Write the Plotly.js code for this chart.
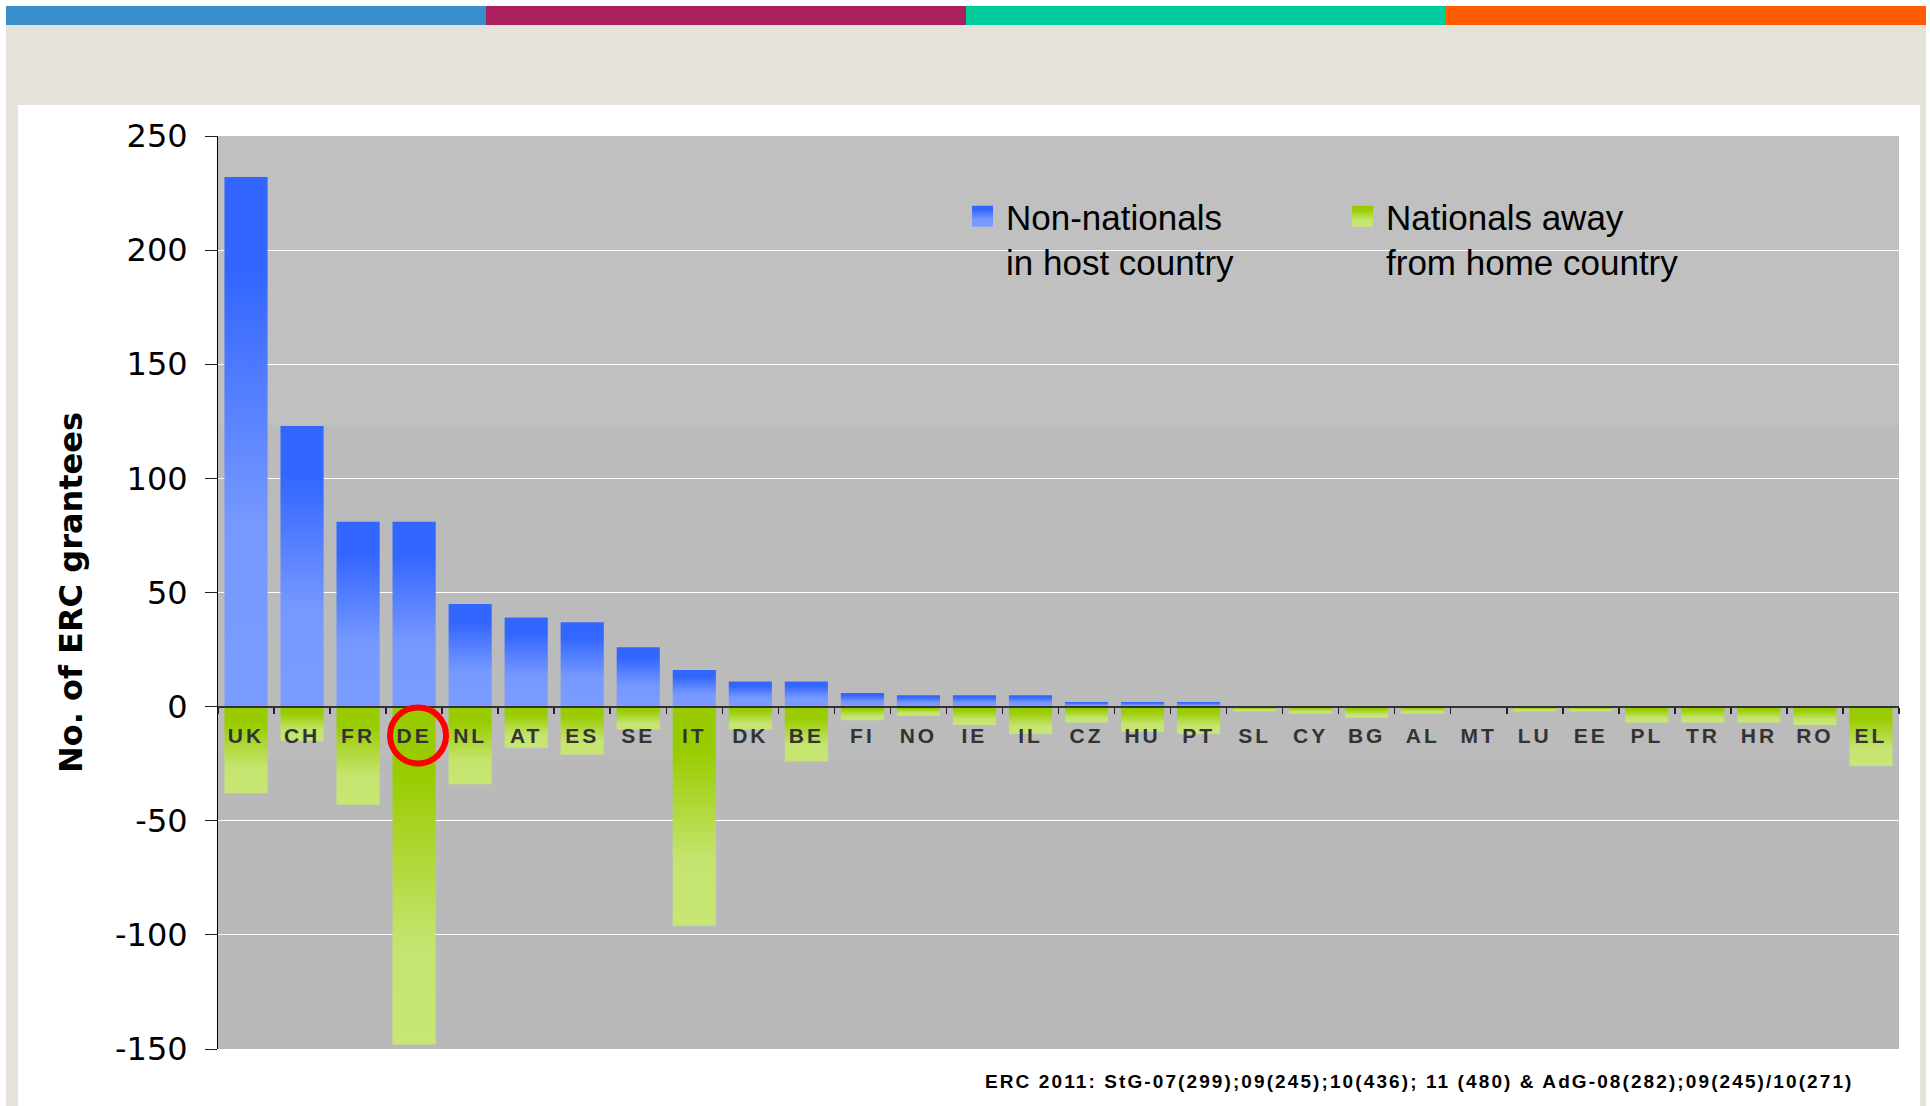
<!DOCTYPE html>
<html>
<head>
<meta charset="utf-8">
<script src="https://cdn.plot.ly/plotly-3.0.1.min.js"></script>
<style>
  html, body { margin: 0; padding: 0; background: #ffffff; }
  #chart { width: 1930px; height: 1106px; }
  .xtick text { letter-spacing: 3px; }
  .annotation-text { letter-spacing: 2.1px; }
</style>
</head>
<body>
<div id="chart"></div>
<script>
// ---- data ----
const categories = ['UK','CH','FR','DE','NL','AT','ES','SE','IT','DK','BE','FI','NO','IE','IL',
                    'CZ','HU','PT','SL','CY','BG','AL','MT','LU','EE','PL','TR','HR','RO','EL'];
const nonNationals = [232,123,81,81,45,39,37,26,16,11,11,6,5,5,5,2,2,2,0,0,0,0,0,0,0,0,0,0,0,0];
const nationalsAway = [-38,-15,-43,-148,-34,-18,-21,-10,-96,-10,-24,-6,-4,-8,-12,
                       -7,-11,-12,-2,-3,-5,-3,0,-2,-2,-7,-7,-7,-8,-26];
const seriesNames = ['Non-nationals<br>in host country', 'Nationals away<br>from home country'];
const yTickVals = [-150,-100,-50,0,50,100,150,200,250];
const yTickText = ['-150','-100','-50','0','50','100','150','200','250'];
const yTitle = 'No. of ERC grantees';
const footnote = 'ERC 2011: StG-07(299);09(245);10(436); 11 (480) & AdG-08(282);09(245)/10(271)';
const highlighted = 'DE';

// ---- geometry helpers (page pixels -> paper fractions) ----
const W = 1930, H = 1106;
const M = {l: 218, r: 31, t: 136, b: 57};
const PW = W - M.l - M.r, PH = H - M.t - M.b;
const px = v => (v - M.l) / PW;
const py = v => (H - M.b - v) / PH;

function rect(x0, y0, x1, y1, color, layer) {
  return {type: 'rect', xref: 'paper', yref: 'paper', layer: layer || 'below',
          x0: px(x0), x1: px(x1), y0: py(y1), y1: py(y0),
          fillcolor: color, line: {width: 0}};
}

const shapes = [
  rect(6, 25, 1926, 1106, '#E5E2DA'),
  rect(18, 105, 1920, 1106, '#FFFFFF'),
  rect(6, 6, 486, 25, '#398ECC'),
  rect(486, 6, 966, 25, '#A8215C'),
  rect(966, 6, 1446, 25, '#00CC9C'),
  rect(1446, 6, 1926, 25, '#FF5B00'),
  rect(218, 136, 1899, 425, '#C0C0C0'),
  rect(218, 425, 1899, 758, '#BBBBBB'),
  rect(218, 758, 1899, 1049, '#B9B9B9'),
  rect(908, 238, 1736, 260, '#C0C0C0', 'between')
];
const hi = categories.indexOf(highlighted);
shapes.push({type: 'circle', xref: 'x', yref: 'y', layer: 'above',
  x0: hi - 0.43, x1: hi + 0.57, y0: -24.9, y1: -0.4,
  line: {color: '#FF0000', width: 6}, fillcolor: 'rgba(0,0,0,0)'});

const data = [
  {type: 'bar', name: seriesNames[0], x: categories, y: nonNationals,
   marker: {color: '#5580FF', line: {width: 0}}, hoverinfo: 'skip'},
  {type: 'bar', name: seriesNames[1], x: categories, y: nationalsAway,
   marker: {color: '#B0D840', line: {width: 0}}, hoverinfo: 'skip'}
];

const layout = {
  width: W, height: H,
  margin: {l: M.l, r: M.r, t: M.t, b: M.b, pad: 0},
  paper_bgcolor: '#FFFFFF',
  plot_bgcolor: '#BBBBBB',
  barmode: 'relative',
  bargap: 0.23,
  showlegend: true,
  legend: {
    orientation: 'h', x: px(959), xanchor: 'left', y: py(187), yanchor: 'top',
    bgcolor: 'rgba(0,0,0,0)', borderwidth: 0,
    font: {family: 'Liberation Sans, Arial, sans-serif', size: 35, color: '#000000'},
    itemwidth: 37, entrywidth: 328, entrywidthmode: 'pixels',
    valign: 'top', traceorder: 'normal'
  },
  xaxis: {
    type: 'category', range: [-0.5, categories.length - 0.5],
    anchor: 'free', position: 150 / 400,
    showline: true, linecolor: '#333333', linewidth: 2,
    ticks: 'outside', tickson: 'boundaries', ticklen: 6, tickwidth: 1.5, tickcolor: '#222222',
    ticklabelstandoff: 10,
    tickfont: {family: 'Liberation Sans, Arial, sans-serif', size: 21, color: '#333333', weight: 'bold'},
    showgrid: false, zeroline: false, fixedrange: true
  },
  yaxis: {
    range: [-150, 250], tickvals: yTickVals, ticktext: yTickText,
    showline: true, linecolor: '#000000', linewidth: 1,
    ticks: 'outside', ticklen: 12, tickwidth: 1, tickcolor: '#222222',
    ticklabelstandoff: 11,
    tickfont: {family: 'DejaVu Sans, sans-serif', size: 32, color: '#000000'},
    showgrid: true, gridcolor: '#FFFFFF', gridwidth: 1,
    zeroline: false, fixedrange: true,
    title: {text: yTitle, standoff: 22,
            font: {family: 'DejaVu Sans, sans-serif', size: 32, color: '#000000', weight: 'bold'}}
  },
  shapes: shapes,
  annotations: [{
    text: footnote, showarrow: false, xref: 'paper', yref: 'paper',
    x: px(1419.5), y: py(1081), xanchor: 'center', yanchor: 'middle',
    font: {family: 'Liberation Sans, Arial, sans-serif', size: 19, color: '#000000', weight: 'bold'}
  }]
};

const gd = document.getElementById('chart');
Plotly.newPlot(gd, data, layout, {staticPlot: true, displayModeBar: false}).then(applyGradients);

function addGrad(defs, id, stops) {
  const ns = 'http://www.w3.org/2000/svg';
  const g = document.createElementNS(ns, 'linearGradient');
  g.setAttribute('id', id);
  g.setAttribute('x1', '0'); g.setAttribute('y1', '0');
  g.setAttribute('x2', '0'); g.setAttribute('y2', '1');
  stops.forEach(s => {
    const st = document.createElementNS(ns, 'stop');
    st.setAttribute('offset', s[0]);
    st.setAttribute('stop-color', s[1]);
    g.appendChild(st);
  });
  defs.appendChild(g);
}

function applyGradients() {
  const svg = gd.querySelector('svg.main-svg');
  let defs = svg.querySelector('defs');
  if (!defs) { defs = document.createElementNS('http://www.w3.org/2000/svg', 'defs'); svg.insertBefore(defs, svg.firstChild); }
  addGrad(defs, 'gradBlue', [[0, '#3366FF'], [0.18, '#3366FF'], [0.66, '#7799FF'], [1, '#7B9CFF']]);
  addGrad(defs, 'gradGreen', [[0, '#99CC00'], [0.2, '#99CC00'], [0.7, '#C5E46F'], [1, '#C8E673']]);
  const ids = ['gradBlue', 'gradGreen'];
  gd.querySelectorAll('.barlayer .trace').forEach((t, i) => {
    t.querySelectorAll('path').forEach(p => { p.style.fill = 'url(#' + ids[i] + ')'; });
  });
  gd.querySelectorAll('.legend .traces').forEach((t, i) => {
    t.querySelectorAll('.legendpoints path').forEach(p => {
      p.style.fill = 'url(#' + ids[i] + ')';
      const tr = p.getAttribute('transform') || '';
      p.setAttribute('transform', tr + ' scale(1.75)');
    });
  });
}
</script>
</body>
</html>
